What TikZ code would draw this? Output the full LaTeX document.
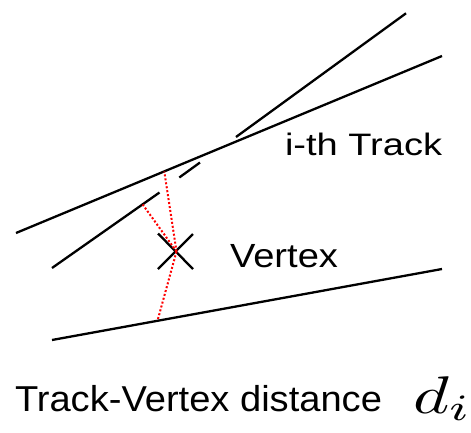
\documentclass[tikz,border=0pt]{standalone}
\usepackage{fontspec}
\usepackage{graphicx}
\setmainfont{Liberation Sans}
\begin{document}
\begin{tikzpicture}[x=1pt,y=-1pt,
  track/.style={line width=2.3pt,black},
  dist/.style={line width=2pt,red,dash pattern=on 2pt off 2pt},
  lbl/.style={anchor=base west,inner sep=0pt,outer sep=0pt}]
\useasboundingbox (0,0) rectangle (471,432);
% tracks
\coordinate (a1) at (16,233);
\coordinate (a2) at (442,56);
\coordinate (b1) at (236,137);
\coordinate (b2) at (406,13.3);
\coordinate (e1) at (179.3,177.5);
\coordinate (e2) at (200,162.5);
\coordinate (c1) at (52,268);
\coordinate (c2) at (159.5,192.5);
\coordinate (d1) at (52,340);
\coordinate (d2) at (442,269);
\draw[track] (a1) -- (a2);
\draw[track] (b1) -- (b2);
\draw[track] (e1) -- (e2);
\draw[track] (c1) -- (c2);
\draw[track] (d1) -- (d2);
% vertex
\coordinate (v) at (176.5,251.5);
\coordinate (x1) at (158,233.5);
\coordinate (x2) at (193,269);
\coordinate (x3) at (158,269);
\coordinate (x4) at (193,234);
\draw[track] (x1) -- (x2);
\draw[track] (x3) -- (x4);
% distances
\coordinate (pa) at (164.3,171.5);
\coordinate (pc) at (142.7,204.5);
\coordinate (pd) at (157.7,320);
\draw[dist] (v) -- (pa);
\draw[dist] (v) -- (pc);
\draw[dist] (v) -- (pd);
% labels
\node[lbl] (ith) at (285,155) {\resizebox{157pt}{\height}{\fontsize{31}{31}\selectfont i-th Track}};
\node[lbl] (vtx) at (230,267) {\resizebox{108pt}{\height}{\fontsize{33.5}{33.5}\selectfont Vertex}};
\node[lbl] (tvd) at (15,411) {\resizebox{367pt}{\height}{\fontsize{36}{36}\selectfont Track-Vertex distance}};
\node[lbl] (di) at (413,413) {\scalebox{6.9}[5.3]{$d_i$}};
\end{tikzpicture}
\end{document}
